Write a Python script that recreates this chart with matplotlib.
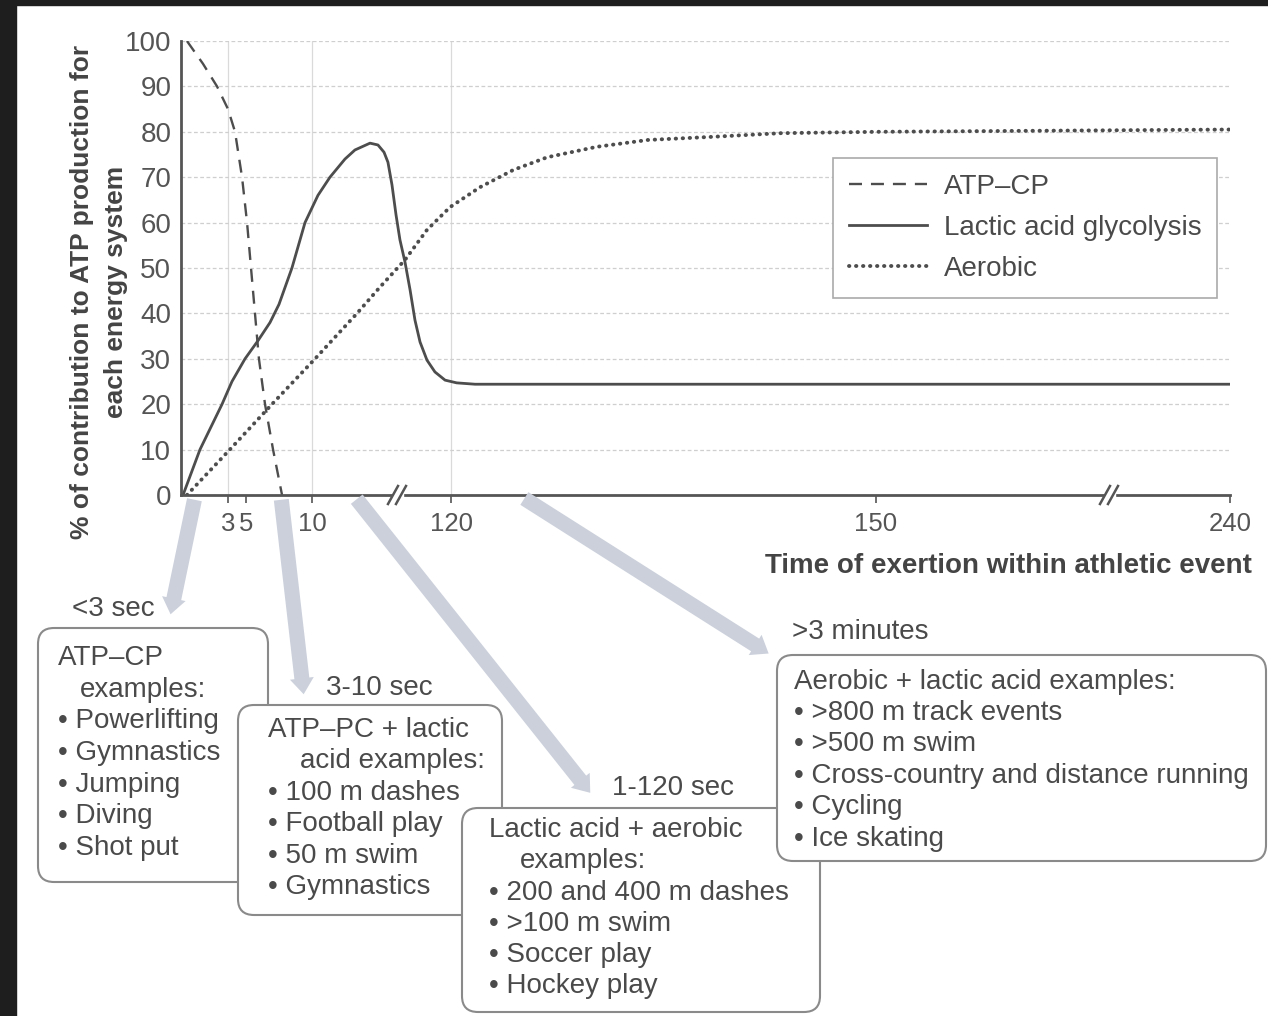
import numpy as np
import matplotlib
matplotlib.use('Agg')
from matplotlib import pyplot as plt
from matplotlib.patches import FancyBboxPatch, FancyArrowPatch, Rectangle

plt.rcParams['font.family'] = ['Liberation Sans', 'DejaVu Sans']

# --- data (seconds, % of ATP production) ---
atp_t = [0.38, 1.40, 2.30, 3.0, 3.78, 4.56, 5.08, 5.38, 5.68, 5.98, 6.44, 7.05, 7.73]
atp_v = [100, 95, 90, 85, 80, 70, 60, 50, 40, 30, 20, 10, 0]

lactic_t = [0.13, 1.21, 2.62, 3.44, 4.89, 5.91, 6.82, 7.5, 8.48, 9.47, 14.7, 24.2, 36.1, 44.0,
            55.9, 62.2, 67.0, 70.1, 73.3, 76.5, 79.6, 83.6, 87.6, 91.5, 95.5, 101.0, 107.3,
            115.3, 120.4, 121.7, 240]
lactic_v = [0, 10, 20, 25, 30, 34, 38, 42, 50, 60, 66, 70, 74, 76,
            77.5, 77.1, 75.5, 73.3, 68.3, 61.7, 56.2, 51.3, 45.2, 38.5, 33.7, 29.7, 27.1,
            25.3, 24.7, 24.4, 24.4]

aerobic_t = [0.38, 3.2, 6.97, 12.4, 45.6, 63.8, 83.6, 101.0, 119.2, 122.05, 124.4, 126.8,
             130.3, 133.9, 138.5, 143.3, 150.4, 240]
aerobic_v = [0, 10, 20, 30, 40, 45.8, 51.8, 58.4, 63.4, 67.8, 71.6, 74.4,
             76.7, 78.2, 78.9, 79.7, 80.0, 80.5]

tick_times = [3, 5, 10, 120, 150, 240]
tick_labels = ['3', '5', '10', '120', '150', '240']
y_ticks = list(range(0, 101, 10))

# schematic x axis: stretched piecewise between these knots (pixels from origin)
knot_t = [0, 3, 5, 10, 120, 150, 240]
knot_px = [0, 47, 65, 131, 270, 695, 1049]


def fwd(t):
    return np.interp(t, knot_t, knot_px)


def inv(p):
    return np.interp(p, knot_px, knot_t)


W, H = 1268, 1016
txt = '#4a4a4a'
ink = '#4d4d4d'
fs = 20

fig = plt.figure(figsize=(W / 100, H / 100), dpi=100)
fig.patch.set_facecolor('white')

ax = fig.add_axes([181 / W, 1 - 495 / H, 1049 / W, 454 / H])
ax.set_xscale('function', functions=(fwd, inv))
ax.set_xlim(0, 240)
ax.set_ylim(0, 100)

ax.yaxis.grid(True, color='#cfcfcf', lw=0.9, ls=(0, (3, 2)))
for t in [3, 10, 120]:
    ax.axvline(t, color='#dadada', lw=0.9, zorder=0)
ax.set_axisbelow(True)

l1, = ax.plot(atp_t, atp_v, color=ink, lw=1.7, ls=(0, (5.5, 3.8)))
l2, = ax.plot(lactic_t, lactic_v, color=ink, lw=2.0)
l3, = ax.plot(aerobic_t, aerobic_v, color=ink, lw=2.8, ls=(0, (0.1, 1.7)),
              dash_capstyle='round')

ax.set_xticks(tick_times)
ax.set_xticklabels(tick_labels)
ax.set_yticks(y_ticks)
ax.tick_params(axis='y', length=0, pad=7, labelsize=20, labelcolor='#555555')
ax.tick_params(axis='x', length=6, width=1.2, color='#555555', pad=6,
               labelsize=18.5, labelcolor='#555555')
for s in ['top', 'right']:
    ax.spines[s].set_visible(False)
for s in ['left', 'bottom']:
    ax.spines[s].set_color('#555555')
    ax.spines[s].set_linewidth(2)

leg = ax.legend([l1, l2, l3], ['ATP–CP', 'Lactic acid glycolysis', 'Aerobic'],
                loc='upper left', bbox_to_anchor=(833 / W, 1 - 158 / H),
                bbox_transform=fig.transFigure, borderaxespad=0, fancybox=False,
                edgecolor='#aaaaaa', framealpha=1, fontsize=fs, handlelength=2.8,
                handletextpad=0.6, labelspacing=0.53, borderpad=0.58, labelcolor=txt)
leg.get_frame().set_linewidth(1.2)

fig.text(99 / W, 1 - 292 / H, '% of contribution to ATP production for\neach energy system',
         rotation=90, ha='center', va='center', fontsize=19, fontweight='bold',
         color='#444444', linespacing=1.5)
fig.text(1252 / W, 1 - 566 / H, 'Time of exertion within athletic event',
         ha='right', va='center', fontsize=fs, fontweight='bold', color='#444444')

# overlay in pixel units for the annotation boxes
ov = fig.add_axes([0, 0, 1, 1])
ov.set_xlim(0, W)
ov.set_ylim(H, 0)
ov.axis('off')
ov.patch.set_alpha(0)

# frame of the scan
ov.add_patch(Rectangle((0, 0), W, 5, color='#1e1e1e', zorder=10))
ov.add_patch(Rectangle((0, 0), 16, H, color='#1e1e1e', zorder=10))

# axis break marks
for bx in [398, 1110]:
    ov.add_patch(Rectangle((bx - 5, 492), 10, 6, color='white', zorder=5))
    for dx in [-5, 3]:
        ov.plot([bx + dx - 5, bx + dx + 5], [504, 486], color='#555555', lw=1.8, zorder=6)

# pointer arrows
arrows = [((195, 497), (170, 617)), ((281, 497), (304, 697)),
          ((355, 497), (592, 795)), ((522, 497), (771, 655))]
for (x0, y0), (x1, y1) in arrows:
    ov.add_patch(FancyArrowPatch((x0, y0), (x1, y1), mutation_scale=0.72,
                                 arrowstyle='simple,head_length=16,head_width=24,tail_width=15',
                                 color='#cbd0db', lw=0, zorder=1))

boxes = [
    ((38, 628, 268, 882), (72, 609, '<3 sec'),
     [(58, 658, 'ATP–CP'), (80, 690, 'examples:'), (58, 721, '• Powerlifting'),
      (58, 753, '• Gymnastics'), (58, 785, '• Jumping'), (58, 816, '• Diving'),
      (58, 848, '• Shot put')]),
    ((238, 705, 502, 915), (326, 688, '3-10 sec'),
     [(268, 730, 'ATP–PC + lactic'), (300, 761, 'acid examples:'),
      (268, 793, '• 100 m dashes'), (268, 824, '• Football play'),
      (268, 856, '• 50 m swim'), (268, 887, '• Gymnastics')]),
    ((462, 808, 820, 1012), (612, 788, '1-120 sec'),
     [(489, 830, 'Lactic acid + aerobic'), (520, 861, 'examples:'),
      (489, 893, '• 200 and 400 m dashes'), (489, 924, '• >100 m swim'),
      (489, 955, '• Soccer play'), (489, 986, '• Hockey play')]),
    ((777, 655, 1266, 861), (792, 632, '>3 minutes'),
     [(794, 682, 'Aerobic + lactic acid examples:'), (794, 713, '• >800 m track events'),
      (794, 744, '• >500 m swim'), (794, 776, '• Cross-country and distance running'),
      (794, 807, '• Cycling'), (794, 839, '• Ice skating')]),
]
for i, ((x0, y0, x1, y1), head, lines) in enumerate(boxes):
    z = 2 + i
    ov.add_patch(FancyBboxPatch((x0, y0), x1 - x0, y1 - y0,
                                boxstyle='round,pad=0,rounding_size=16',
                                fc='white', ec='#8a8a8a', lw=1.5, zorder=z))
    ov.text(head[0], head[1], head[2], fontsize=fs, color=txt, va='center', zorder=z)
    for x, y, s in lines:
        ov.text(x, y, s, fontsize=fs, color=txt, va='center', zorder=z + 0.5)

fig.savefig('out.png', dpi=100, facecolor='white')
